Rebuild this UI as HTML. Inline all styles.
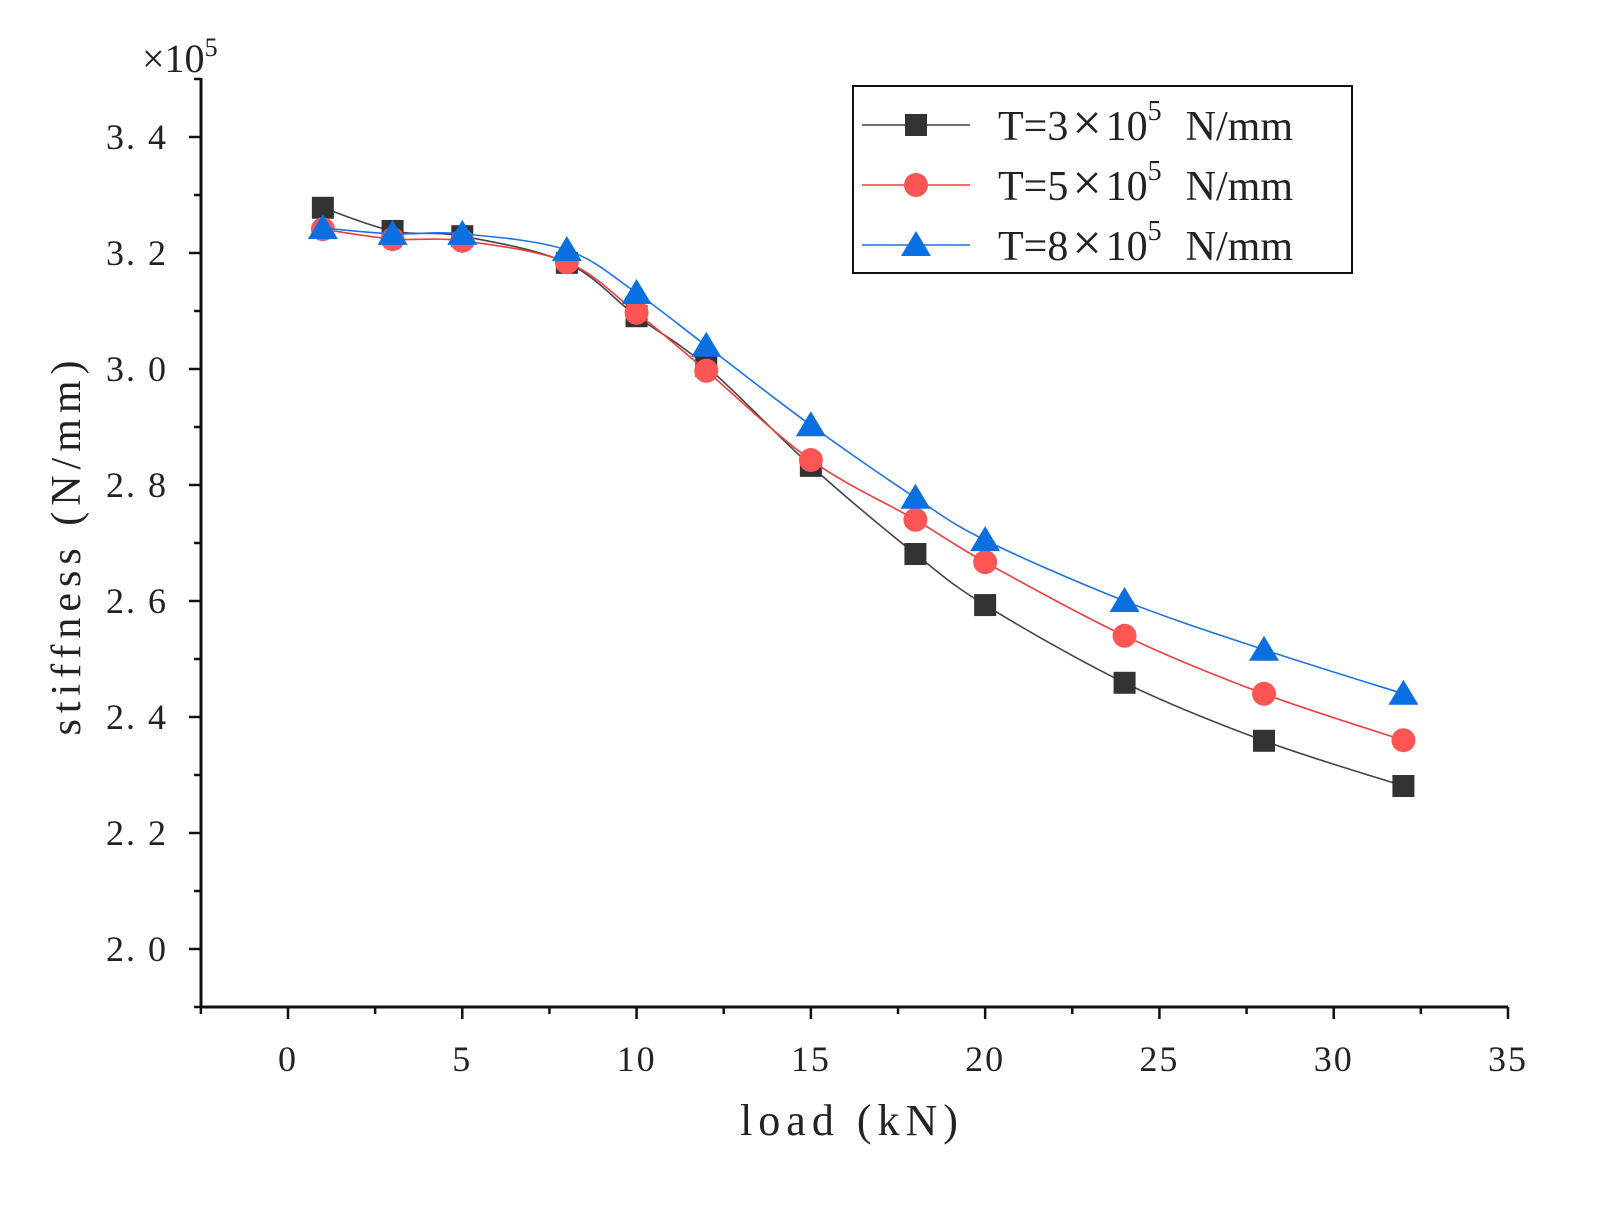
<!DOCTYPE html>
<html><head><meta charset="utf-8"><style>
body{margin:0;background:#fff}
svg text{font-family:"Liberation Serif","Noto Serif CJK SC",serif;fill:#222}
</style></head><body>
<svg id="chart" width="1599" height="1212" xmlns="http://www.w3.org/2000/svg">
<g id="axes"></g>
<g id="series"></g>
<text x="142" y="72" font-size="40">×10<tspan font-size="26" dy="-16">5</tspan></text>
<text transform="translate(80,545) rotate(-90)" text-anchor="middle" font-size="42" letter-spacing="6">stiffness (N/mm)</text>
<text x="852" y="1135" text-anchor="middle" font-size="44" letter-spacing="6">load (kN)</text>
<g>
<rect x="853" y="86" width="499" height="187" fill="#fff" stroke="#111" stroke-width="2"/>
<g id="legend-items"></g>
</g>
</svg>
<script>
const xs=[1,3,5,8,10,12,15,18,20,24,28,32];
const s1=[3.278,3.238,3.229,3.183,3.091,3.005,2.833,2.681,2.593,2.459,2.359,2.281];
const s2=[3.241,3.224,3.221,3.184,3.097,2.997,2.843,2.740,2.667,2.540,2.440,2.360];
const s3=[3.243,3.233,3.233,3.205,3.131,3.040,2.903,2.778,2.705,2.600,2.516,2.440];
const xTicks=[0,5,10,15,20,25,30,35];
const yTicks=[2.0,2.2,2.4,2.6,2.8,3.0,3.2,3.4];
const legendLabels=["3","5","8"];
const NS="http://www.w3.org/2000/svg";
const X=v=>288+(v-0)*34.857;
const Y=v=>137+(3.4-v)*580;
function mk(tag,at,parent){const e=document.createElementNS(NS,tag);for(const k in at)e.setAttribute(k,at[k]);parent.appendChild(e);return e;}
const ax=document.getElementById('axes');
let l=mk('line',{x1:201,y1:78,x2:201,y2:1007,stroke:'#111','stroke-width':3},ax);


l=mk('line',{x1:200,y1:1007,x2:1508,y2:1007,stroke:'#111','stroke-width':3},ax);


for(let v=-2.5;v<=35.01;v+=2.5){const major=Math.abs(v%5)<1e-6;
 mk('line',{x1:X(v),y1:1007,x2:X(v),y2:1007+(major?12:7),stroke:'#111','stroke-width':2.5},ax);}
xTicks.forEach(v=>{const t=mk('text',{x:X(v),y:1071,'text-anchor':'middle','font-size':36,'letter-spacing':2},ax);t.textContent=v;
 
 });
for(let v=1.9;v<=3.5001;v+=0.1){const major=Math.round(v*10)%2===0;
 mk('line',{x1:201,y1:Y(v),x2:201-(major?12:7),y2:Y(v),stroke:'#111','stroke-width':2.5},ax);}
yTicks.forEach(v=>{const t=mk('text',{x:168,y:Y(v)+12,'text-anchor':'end','font-size':36,'letter-spacing':2},ax);t.textContent=v.toFixed(1).replace('.','. ');
 
 });
function spline(ys){const p=xs.map((x,i)=>[X(x),Y(ys[i])]);let d='M'+p[0][0]+','+p[0][1];
 for(let i=0;i<p.length-1;i++){const p0=p[i-1]||p[i],p1=p[i],p2=p[i+1],p3=p[i+2]||p2;
  d+=` C${p1[0]+(p2[0]-p0[0])/6},${p1[1]+(p2[1]-p0[1])/6} ${p2[0]-(p3[0]-p1[0])/6},${p2[1]-(p3[1]-p1[1])/6} ${p2[0]},${p2[1]}`;}return d;}
function marker(kind,cx,cy,color,parent){
 if(kind==='sq')return mk('rect',{x:cx-11,y:cy-11,width:22,height:22,fill:color},parent);
 if(kind==='ci')return mk('circle',{cx:cx,cy:cy,r:12,fill:color},parent);
 return mk('polygon',{points:`${cx},${cy-14} ${cx+15},${cy+11} ${cx-15},${cy+11}`,fill:color},parent);}
const sers=[[s1,'#444','#333','sq'],[s2,'#f03c3c','#f55','ci'],[s3,'#1a73e8','#0a6fe0','tr']];
const sg=document.getElementById('series'),lg=document.getElementById('legend-items');
sers.forEach((s,k)=>{const g=mk('g',{},sg);
 
 
 mk('path',{d:spline(s[0]),fill:'none',stroke:s[1],'stroke-width':1.6},g);
 xs.forEach((x,i)=>{const m=marker(s[3],X(x),Y(s[0][i]),s[2],g);
  
  });
 const ly=125+k*60;const e=mk('g',{},lg);
 
 
 mk('line',{x1:862,y1:ly,x2:970,y2:ly,stroke:s[1],'stroke-width':1.6},e);
 marker(s[3],916,ly,s[2],e);
 const t=mk('text',{x:998,y:ly+15,'font-size':42},e);
 t.innerHTML='T='+legendLabels[k]+'<tspan font-size="52" dx="4">×</tspan><tspan dx="4">10</tspan><tspan font-size="28" dy="-20">5</tspan><tspan dy="20" dx="24">N/mm</tspan>';
});
</script>
</body></html>
